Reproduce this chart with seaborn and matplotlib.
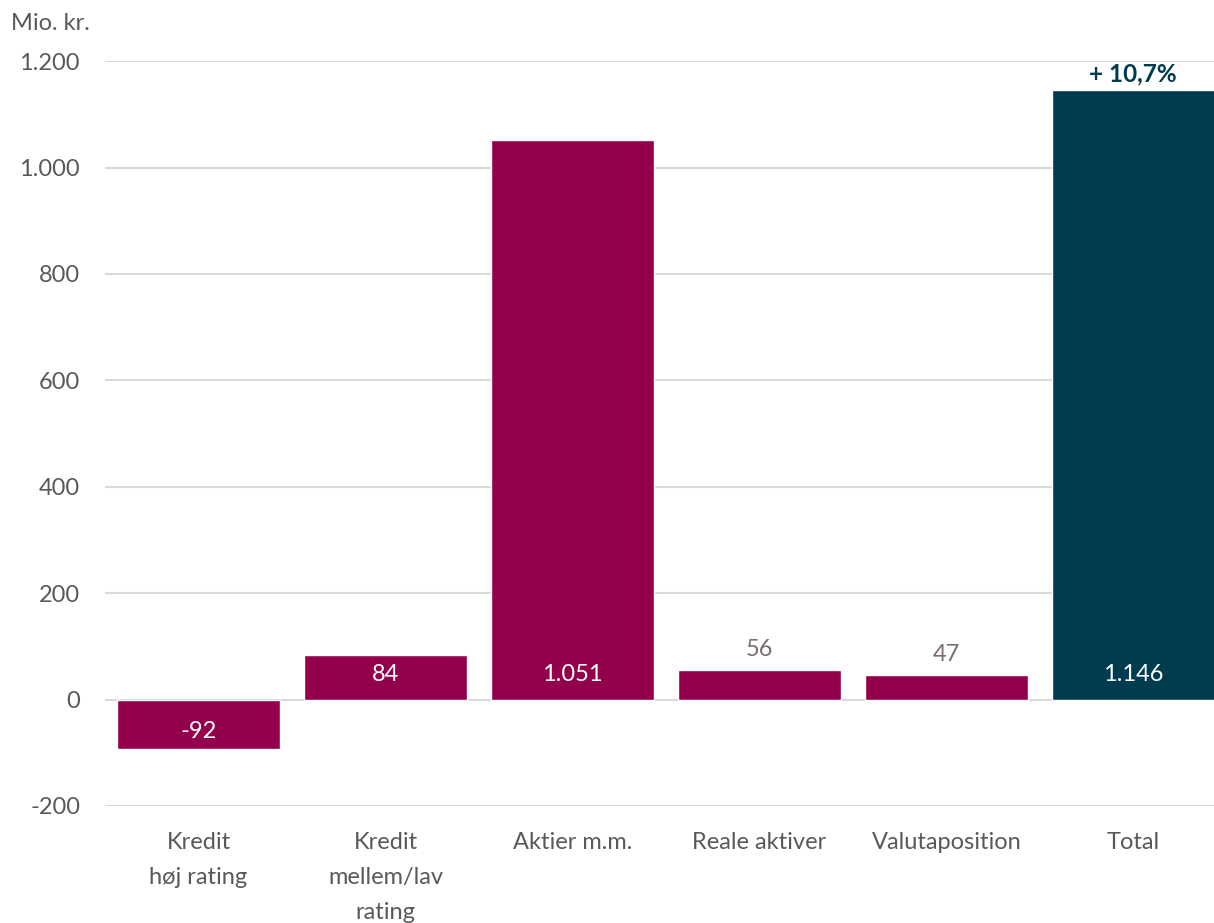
import pandas as pd
import matplotlib.pyplot as plt
import seaborn as sns

# Data
categories = ["Kredit\nhøj rating", "Kredit\nmellem/lav\nrating", "Aktier m.m.",
              "Reale aktiver", "Valutaposition", "Total"]
values = [-92, 84, 1051, 56, 47, 1146]
groups = ["del", "del", "del", "del", "del", "total"]
total_label = "+ 10,7%"
y_ticks = [-200, 0, 200, 400, 600, 800, 1000, 1200]

df = pd.DataFrame({"kategori": categories, "værdi": values, "gruppe": groups})

sns.set_theme(style="white")
plt.rcParams["font.family"] = ["Lato", "DejaVu Sans"]

magenta = "#93004b"
teal = "#003c50"
grey_text = "#595959"
fs = 17

fig = plt.figure(figsize=(12.14, 9.23), dpi=100)
# axes runs slightly past the right figure edge, like the original
ax = fig.add_axes([0.0865, 0.1268, 0.924, 0.807])

sns.barplot(data=df, x="kategori", y="værdi", hue="gruppe",
            palette={"del": magenta, "total": teal}, dodge=False,
            width=0.87, legend=False, ax=ax, saturation=1)

ax.set_xlim(-0.5, len(values) - 0.5)
ax.set_ylim(-200, 1200)
ax.set_yticks(y_ticks)
ax.set_yticklabels([f"{t:,}".replace(",", ".") for t in y_ticks])
ax.yaxis.grid(True, color="#d9d9d9", linewidth=1.5)
ax.set_axisbelow(True)
sns.despine(ax=ax, left=True, bottom=True, top=True, right=True)
ax.tick_params(axis="y", length=0, pad=18, labelsize=fs, labelcolor=grey_text)
ax.tick_params(axis="x", length=0, pad=19, labelsize=fs, labelcolor=grey_text)
for lbl in ax.get_xticklabels():
    lbl.set_linespacing(1.8)
ax.set_xlabel("")
ax.set_ylabel("")

# value labels
for i, v in enumerate(values):
    txt = f"{v:,}".replace(",", ".")
    if abs(v) > 70:
        ypos = 47 if v > 0 else -60
        ax.text(i, ypos, txt, ha="center", va="center", color="white", fontsize=fs)
    else:
        ax.annotate(txt, (i, v), xytext=(0, 7), textcoords="offset points",
                    ha="center", va="bottom", color="#7a6e6e", fontsize=fs)

ax.annotate(total_label, (len(values) - 1, values[-1]), xytext=(0, 3),
            textcoords="offset points", ha="center", va="bottom",
            color=teal, fontsize=17.5, fontweight="bold")

fig.text(0.009, 0.975, "Mio. kr.", ha="left", va="center", fontsize=fs, color=grey_text)

plt.savefig("out.png", dpi=100)
